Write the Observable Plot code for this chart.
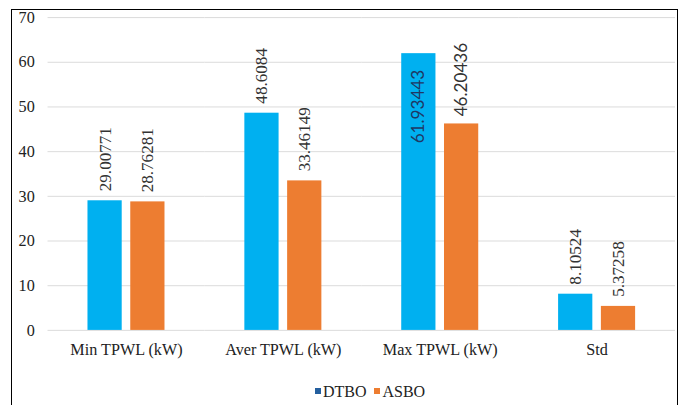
<!DOCTYPE html>
<html>
<head>
<meta charset="utf-8">
<script src="https://cdn.jsdelivr.net/npm/d3@7"></script>
<script src="https://cdn.jsdelivr.net/npm/@observablehq/plot@0.6"></script>
<style>
  html, body { margin: 0; padding: 0; background: #fff; overflow: hidden; }
  #wrap { position: relative; width: 683px; height: 405px; overflow: hidden;
          font-family: "Liberation Serif", serif; }
  #clip { position: absolute; left: 0; top: 0; width: 676px; height: 382px; overflow: hidden; }
  #frame { position: absolute; left: 11px; top: 9px; width: 665px; height: 400px;
           border: 1.5px solid #000; border-bottom: none; }
  #legend { position: absolute; left: 0; width: 740px; top: 383px; text-align: center;
            font-family: "Liberation Serif", serif; font-size: 16px; color: #222; }
  #legend span.item { margin: 0 4px; }
  #legend span.sw { display: inline-block; width: 6px; height: 6px; margin-right: 2px; vertical-align: 3px; }
</style>
</head>
<body>
<div id="wrap">
  <div id="clip"></div>
  <div id="frame"></div>
  <div id="legend"></div>
</div>
<script>
// Power loss statistics for the two optimisers
const categories = ["Min TPWL (kW)", "Aver TPWL (kW)", "Max TPWL (kW)", "Std"];
const series = ["DTBO", "ASBO"];
const dtbo = [29.00771, 48.6084, 61.93443, 8.10524];
const asbo = [28.76281, 33.46149, 46.20436, 5.37258];
const yTicks = [0, 10, 20, 30, 40, 50, 60, 70];
const barColors = ["#00b0f0", "#ed7d31"];
const legendColors = ["#245f9e", "#ed7d31"];

const rows = categories.flatMap((c, i) => [
  {category: c, series: "DTBO", value: dtbo[i]},
  {category: c, series: "ASBO", value: asbo[i]}
]);

const serif = "Liberation Serif";
const sans = "Lato";
const fitsAbove = d => d.value < 55;
const isMax = d => d.category === "Max TPWL (kW)";

const chart = Plot.plot({
  width: 711,
  height: 382,
  marginLeft: 48,
  marginRight: 0,
  marginTop: 18,
  marginBottom: 35,
  style: {fontFamily: serif, background: "transparent"},
  // facet bands abut so the gridlines run continuously across the plot
  fx: {domain: categories, paddingInner: 0, paddingOuter: 0, axis: null, label: null},
  x: {domain: series, paddingInner: 0.2, paddingOuter: 0.9, axis: null},
  y: {domain: [0, 70], axis: null},
  color: {domain: series, range: barColors},
  marks: [
    Plot.ruleY(yTicks, {stroke: "#d9d9d9", strokeWidth: 1}),
    Plot.axisY(yTicks, {tickSize: 0, tickPadding: 14, fontSize: 17, fill: "#222", label: null, fontFamily: serif}),
    // category names under each group
    Plot.text(categories, {fx: d => d, frameAnchor: "bottom", lineAnchor: "top", dy: 14,
      fontSize: 17, fill: "#222", fontFamily: serif}),
    Plot.barY(rows, {fx: "category", x: "series", y: "value", fill: "series"}),
    // value labels sitting above their bars
    Plot.text(rows.filter(d => fitsAbove(d) && !isMax(d)), {
      fx: "category", x: "series", y: "value", text: d => String(d.value),
      rotate: -90, textAnchor: "start", dy: -10, fontSize: 18, fill: "#333", fontFamily: serif
    }),
    Plot.text(rows.filter(d => fitsAbove(d) && isMax(d)), {
      fx: "category", x: "series", y: "value", text: d => String(d.value),
      rotate: -90, textAnchor: "start", dy: -8, fontSize: 18, fill: "#333", fontFamily: sans
    }),
    // tall bar: label placed inside the top of the bar
    Plot.text(rows.filter(d => !fitsAbove(d)), {
      fx: "category", x: "series", y: "value", text: d => String(d.value),
      rotate: -90, textAnchor: "end", dy: 17, fontSize: 18, fill: "#1f3864", fontFamily: sans
    })
  ]
});
document.getElementById("clip").appendChild(chart);

const legend = document.getElementById("legend");
legend.innerHTML = series.map((s, i) =>
  `<span class="item"><span class="sw" style="background:${legendColors[i]}"></span>${s}</span>`
).join("");
</script>
</body>
</html>
